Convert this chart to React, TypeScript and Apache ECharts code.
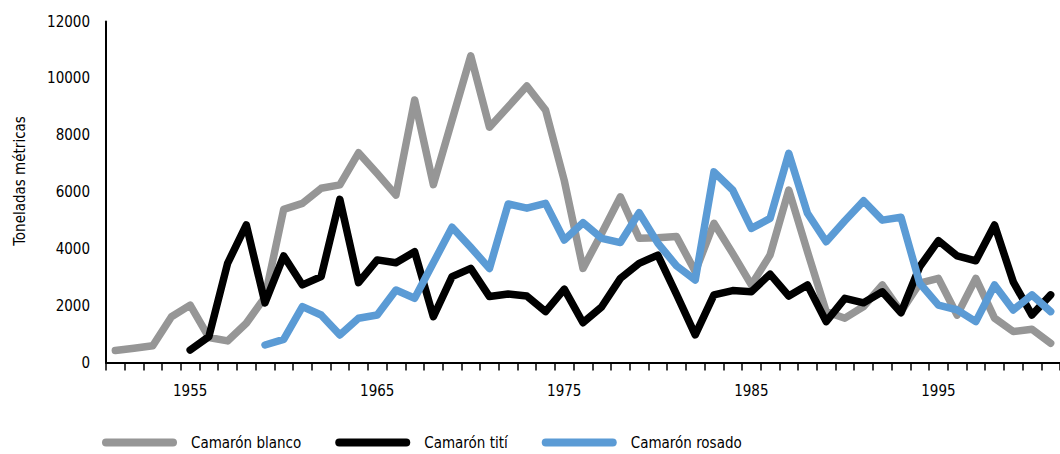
import React, { useEffect, useRef } from "react";
import * as echarts from "echarts";

const years = [
  "1951", "1952", "1953", "1954", "1955", "1956", "1957", "1958", "1959", "1960",
  "1961", "1962", "1963", "1964", "1965", "1966", "1967", "1968", "1969", "1970",
  "1971", "1972", "1973", "1974", "1975", "1976", "1977", "1978", "1979", "1980",
  "1981", "1982", "1983", "1984", "1985", "1986", "1987", "1988", "1989", "1990",
  "1991", "1992", "1993", "1994", "1995", "1996", "1997", "1998", "1999", "2000",
  "2001",
];

const labeledYears = ["1955", "1965", "1975", "1985", "1995"];

const camaronBlanco = [
  420, 500, 590, 1610, 2020, 880, 760, 1380, 2300, 5390,
  5600, 6130, 6250, 7380, 6650, 5890, 9240, 6260, 8530, 10790,
  8280, 9000, 9730, 8880, 6400, 3310, 4550, 5830, 4370, 4390,
  4430, 3200, 4900, 3840, 2730, 3780, 6070, 3900, 1790, 1560,
  1970, 2730, 1790, 2790, 2960, 1670, 2960, 1560, 1090, 1170,
  680,
];

const camaronTiti = [
  null, null, null, null, 440, 910, 3490, 4840, 2100, 3750,
  2730, 3020, 5740, 2810, 3610, 3510, 3900, 1610, 3020, 3310,
  2320, 2410, 2340, 1790, 2580, 1400, 1960, 2960, 3490, 3780,
  2400, 970, 2380, 2530, 2490, 3110, 2340, 2730, 1440, 2260,
  2100, 2490, 1750, 3370, 4290, 3750, 3580, 4840, 2840, 1670,
  2380,
];

const camaronRosado = [
  null, null, null, null, null, null, null, null, 615, 815,
  1965, 1670, 970, 1555, 1670, 2550, 2260, 3510, 4760, 4050,
  3310, 5580, 5430, 5600, 4310, 4920, 4370, 4220, 5270, 4200,
  3400, 2900, 6710, 6070, 4720, 5070, 7360, 5250, 4250, 4990,
  5690, 5010, 5110, 2790, 2020, 1850, 1440, 2730, 1850, 2380,
  1790,
];

const seriesNames = ["Camarón blanco", "Camarón tití", "Camarón rosado"];
const seriesColors = ["#969696", "#000000", "#5B9BD5"];
const yAxisTitle = "Toneladas métricas";

const FONT = '"DejaVu Sans Condensed", "Liberation Sans Narrow", "Liberation Sans", sans-serif';

export default function App() {
  const ref = useRef<HTMLDivElement>(null);

  useEffect(() => {
    if (!ref.current) return;
    const chart = echarts.init(ref.current, null, { renderer: "svg" });
    const seriesData = [camaronBlanco, camaronTiti, camaronRosado];
    const icon = "path://M4,0L71,0A4,4,0,0,1,71,8L4,8A4,4,0,0,1,4,0Z";
    chart.setOption({
      animation: false,
      backgroundColor: "#ffffff",
      textStyle: { fontFamily: FONT },
      grid: { left: 106, top: 21.5, height: 341, width: 961.35, containLabel: false },
      legend: {
        left: 97,
        top: 430,
        itemWidth: 75,
        itemHeight: 8,
        itemGap: 34,
        icon,
        data: seriesNames.map((n, i) => ({ name: n, icon, itemStyle: { color: seriesColors[i] } })),
        textStyle: { fontFamily: FONT, fontSize: 15, color: "#000", padding: [0, 0, 0, 9] },
      },
      xAxis: {
        type: "category",
        data: years,
        boundaryGap: true,
        axisLine: { show: true, lineStyle: { color: "#000", width: 2 } },
        axisTick: { show: true, interval: 0, length: 8, lineStyle: { color: "#000", width: 1.5 } },
        axisLabel: {
          interval: (_i: number, v: string) => labeledYears.includes(v),
          margin: 21,
          fontFamily: FONT,
          fontSize: 15,
          color: "#000",
        },
        splitLine: { show: false },
      },
      yAxis: {
        type: "value",
        min: 0,
        max: 12000,
        interval: 2000,
        axisLine: { show: true, lineStyle: { color: "#000", width: 2 } },
        axisTick: { show: false },
        axisLabel: {
          margin: 16,
          fontFamily: FONT,
          fontSize: 15,
          color: "#000",
          formatter: (v: number) => String(v),
        },
        splitLine: { show: false },
      },
      graphic: [
        {
          type: "text",
          x: 20,
          y: 181,
          rotation: Math.PI / 2,
          style: {
            text: yAxisTitle,
            fontFamily: FONT,
            fontSize: 15,
            fill: "#000",
            textAlign: "center",
            textVerticalAlign: "middle",
          },
        },
      ],
      series: seriesNames.map((n, i) => ({
        name: n,
        type: "line",
        data: seriesData[i],
        showSymbol: false,
        symbol: "none",
        connectNulls: false,
        lineStyle: { color: seriesColors[i], width: 7.5, cap: "round", join: "round" },
        itemStyle: { color: seriesColors[i] },
        z: 2 + i,
      })),
    });
    return () => chart.dispose();
  }, []);

  return (
    <div
      ref={ref}
      style={{ position: "fixed", left: 0, top: 0, width: 1060, height: 454 }}
    />
  );
}
